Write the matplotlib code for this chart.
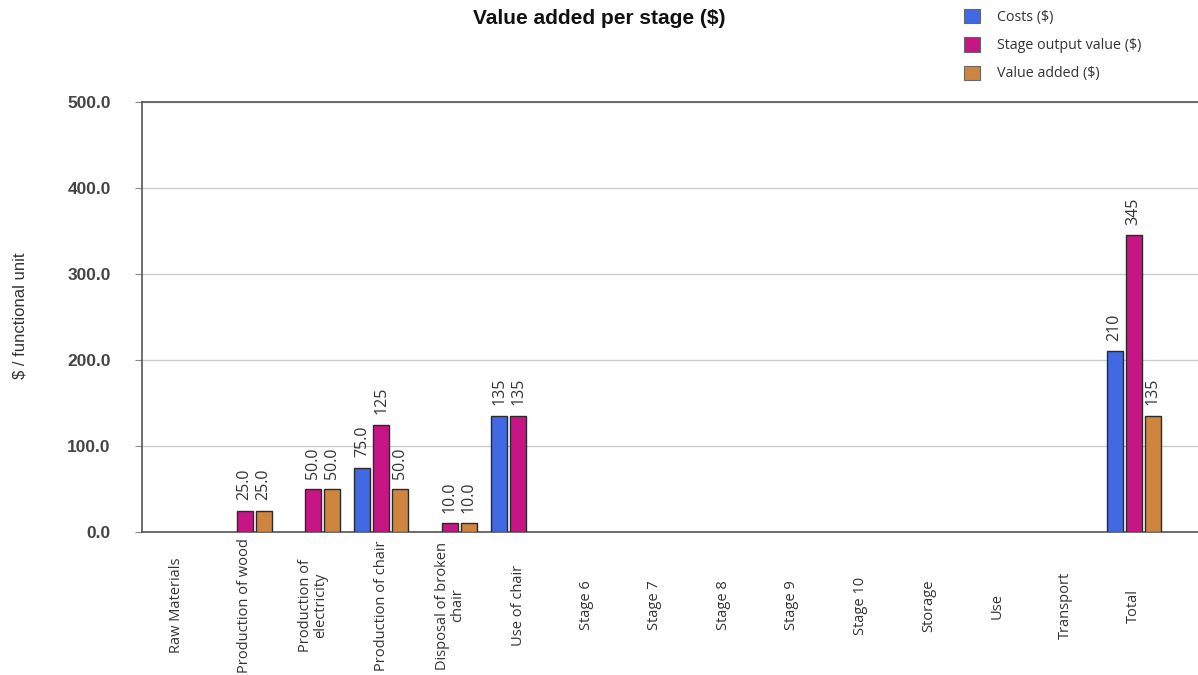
import numpy as np
import matplotlib
matplotlib.use("Agg")
import matplotlib.pyplot as plt
from matplotlib.patches import Patch

categories = ["Raw Materials", "Production of wood", "Production of\nelectricity",
              "Production of chair", "Disposal of broken\nchair", "Use of chair",
              "Stage 6", "Stage 7", "Stage 8", "Stage 9", "Stage 10", "Storage",
              "Use", "Transport", "Total"]
costs = [0, 0, 0, 75, 0, 135, 0, 0, 0, 0, 0, 0, 0, 0, 210]
stage_output = [0, 25, 50, 125, 10, 135, 0, 0, 0, 0, 0, 0, 0, 0, 345]
value_added = [0, 25, 50, 50, 10, 0, 0, 0, 0, 0, 0, 0, 0, 0, 135]
series_names = ["Costs ($)", "Stage output value ($)", "Value added ($)"]
series_colors = ["#4169E1", "#C71585", "#CD853F"]
yticks = [0, 100, 200, 300, 400, 500]

W, H = 1198, 675
fig = plt.figure(figsize=(W / 100, H / 100), dpi=100)
ax = fig.add_axes([142 / W, 1 - 532 / H, (W - 142) / W, (532 - 102) / H])

x = np.arange(len(categories))
step = 0.278
width = 0.235
txt_color = "#333333"
for k, (vals, col) in enumerate(zip([costs, stage_output, value_added], series_colors)):
    vals = np.asarray(vals, dtype=float)
    idx = np.nonzero(vals)[0]
    xs = x[idx] + (k - 1) * step
    ax.bar(xs, vals[idx], width=width, color=col, edgecolor="#2a2a2a", linewidth=1.0, zorder=3)
    for xi, v in zip(xs, vals[idx]):
        lab = f"{v:.0f}" if v >= 100 else f"{v:.1f}"
        ax.annotate(lab, (xi, v), xytext=(0, 7.5), textcoords="offset points",
                    rotation=90, ha="center", va="bottom", fontsize=11.5,
                    family="Open Sans", color=txt_color)

ax.set_xlim(-0.5, (W - 176) / 68.4)
ax.set_ylim(0, 500)
ax.set_yticks(yticks)
ax.set_yticklabels([f"{t:.1f}" for t in yticks], fontsize=12.5, fontweight="bold",
                   family="Liberation Sans", color="#444444")
ax.yaxis.grid(True, color="#cccccc", linewidth=1.0, zorder=0)
ax.tick_params(axis="y", length=5, color="#888888", pad=17.5)
ax.set_xticks(x)
ax.set_xticklabels(categories, rotation=90, fontsize=10.5, family="Open Sans",
                   color=txt_color, linespacing=1.0)
for lab in ax.get_xticklabels():
    lab.set_verticalalignment("center")
    lab.set_horizontalalignment("center")
ax.tick_params(axis="x", length=0, pad=53)

for s in ["left", "bottom", "top"]:
    ax.spines[s].set_color("#555555")
    ax.spines[s].set_linewidth(1.2)
ax.spines["right"].set_visible(False)

ax.set_ylabel("$ / functional unit", fontsize=12, family="Liberation Sans",
              color=txt_color)
ax.yaxis.set_label_coords((20 - 142) / (W - 142), (532 - 316) / 430)
ax.yaxis.label.set_verticalalignment("center")

fig.text(599 / W, 1 - 18 / H, "Value added per stage ($)", ha="center", va="center",
         fontsize=15, fontweight="bold", family="Liberation Sans", color="#111111")

handles = [Patch(facecolor=c, edgecolor="#666666", linewidth=0.8) for c in series_colors]
fig.legend(handles, series_names, loc="upper left", bbox_to_anchor=(960 / W, 1 - 5 / H),
           frameon=False, prop={"family": "Open Sans", "size": 10.3},
           handlelength=1.1, handleheight=1.15, labelspacing=0.85, handletextpad=1.2,
           borderaxespad=0, borderpad=0.3, labelcolor=txt_color)

fig.savefig("out.png", dpi=100)
